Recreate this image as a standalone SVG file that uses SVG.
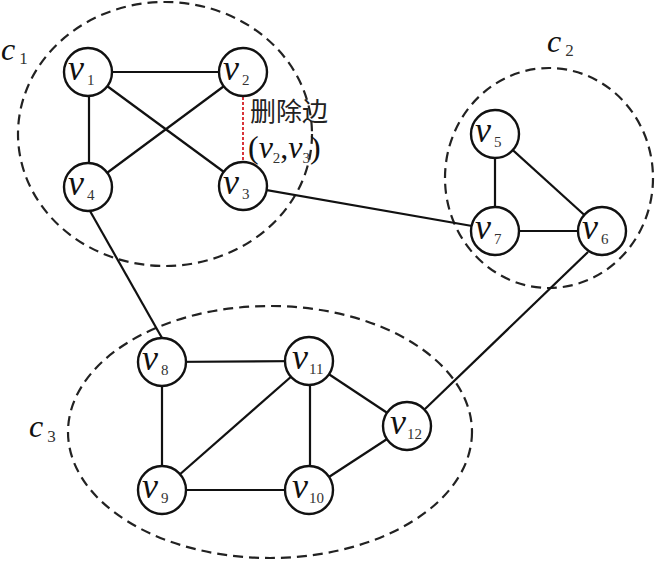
<svg xmlns="http://www.w3.org/2000/svg" width="655" height="563" viewBox="0 0 655 563">
<style>
.cl{fill:none;stroke:#222;stroke-width:2.2;stroke-dasharray:10,6}
.e{stroke:#111;stroke-width:2.2}
.n circle{fill:#fff;stroke:#111;stroke-width:2.4}
.v{font-family:"Liberation Serif",serif;font-style:italic;font-size:36px;fill:#111}
.p{font-family:"Liberation Serif",serif;font-style:italic;font-size:32px;fill:#111}
.s{font-family:"Liberation Serif",serif;font-style:normal;font-size:15px;fill:#333}
.c{font-family:"Liberation Serif",serif;font-style:italic;font-size:32px;fill:#111}
.cs{font-family:"Liberation Serif",serif;font-style:normal;font-size:17px;fill:#333}
.zh{font-family:"Noto Sans CJK SC",sans-serif;font-size:26px;fill:#222}
</style>
<rect width="655" height="563" fill="#fff"/>
<g id="clusters">
<ellipse class="cl" cx="165" cy="134" rx="147" ry="132"/>
<ellipse class="cl" cx="549" cy="178" rx="104" ry="110"/>
<ellipse class="cl" cx="270" cy="432" rx="202" ry="126"/>
<text class="c" x="1" y="60">c<tspan class="cs" dx="4" dy="4">1</tspan></text>
<text class="c" x="547" y="52">c<tspan class="cs" dx="4" dy="4">2</tspan></text>
<text class="c" x="29" y="437">c<tspan class="cs" dx="4" dy="5">3</tspan></text>
</g>
<g id="connectors">
<line class="e" x1="88" y1="72" x2="243" y2="72"/>
<line class="e" x1="89" y1="72" x2="89" y2="187"/>
<line class="e" x1="88" y1="72" x2="243" y2="186"/>
<line class="e" x1="243" y1="72" x2="88" y2="187"/>
<line x1="243" y1="97" x2="243" y2="162" stroke="#d8343a" stroke-width="2" stroke-dasharray="3,2"/>
<line class="e" x1="243" y1="186" x2="495" y2="230"/>
<line class="e" x1="90" y1="211" x2="162" y2="338"/>
<line class="e" x1="495" y1="134" x2="495" y2="230"/>
<line class="e" x1="495" y1="134" x2="602" y2="231"/>
<line class="e" x1="495" y1="231" x2="602" y2="231"/>
<line class="e" x1="588" y1="252" x2="425" y2="409"/>
<line class="e" x1="162" y1="362" x2="309" y2="361"/>
<line class="e" x1="162" y1="362" x2="162" y2="490"/>
<line class="e" x1="162" y1="490" x2="309" y2="361"/>
<line class="e" x1="310" y1="361" x2="310" y2="490"/>
<line class="e" x1="162" y1="490" x2="309" y2="490"/>
<line class="e" x1="309" y1="361" x2="407" y2="426"/>
<line class="e" x1="309" y1="490" x2="407" y2="426"/>
</g>
<g id="label-deleted">
<text class="zh" x="250" y="121">删除边</text>
<text class="p" x="248" y="158"><tspan font-style="normal">(</tspan>v<tspan class="s" dy="5">2</tspan><tspan dy="-5" font-style="normal">,</tspan>v<tspan class="s" dy="5">3</tspan><tspan dy="-5" font-style="normal">)</tspan></text>
</g>
<g id="v1" class="n"><circle cx="88" cy="72" r="24"/><text class="v" x="68" y="80">v<tspan class="s" dx="3" dy="5">1</tspan></text></g>
<g id="v2" class="n"><circle cx="243" cy="72" r="24"/><text class="v" x="223" y="80">v<tspan class="s" dx="3" dy="5">2</tspan></text></g>
<g id="v3" class="n"><circle cx="243" cy="186" r="24"/><text class="v" x="223" y="194">v<tspan class="s" dx="3" dy="5">3</tspan></text></g>
<g id="v4" class="n"><circle cx="88" cy="187" r="24"/><text class="v" x="68" y="195">v<tspan class="s" dx="3" dy="5">4</tspan></text></g>
<g id="v5" class="n"><circle cx="495" cy="134" r="24"/><text class="v" x="475" y="142">v<tspan class="s" dx="3" dy="5">5</tspan></text></g>
<g id="v6" class="n"><circle cx="602" cy="231" r="24"/><text class="v" x="582" y="239">v<tspan class="s" dx="3" dy="5">6</tspan></text></g>
<g id="v7" class="n"><circle cx="495" cy="231" r="24"/><text class="v" x="475" y="239">v<tspan class="s" dx="3" dy="5">7</tspan></text></g>
<g id="v8" class="n"><circle cx="162" cy="362" r="24"/><text class="v" x="142" y="370">v<tspan class="s" dx="3" dy="5">8</tspan></text></g>
<g id="v9" class="n"><circle cx="162" cy="490" r="24"/><text class="v" x="142" y="498">v<tspan class="s" dx="3" dy="5">9</tspan></text></g>
<g id="v10" class="n"><circle cx="309" cy="490" r="24"/><text class="v" x="292" y="498">v<tspan class="s" dx="1" dy="5">10</tspan></text></g>
<g id="v11" class="n"><circle cx="309" cy="361" r="24"/><text class="v" x="292" y="369">v<tspan class="s" dx="1" dy="5">11</tspan></text></g>
<g id="v12" class="n"><circle cx="407" cy="426" r="24"/><text class="v" x="390" y="434">v<tspan class="s" dx="1" dy="5">12</tspan></text></g>
</svg>
